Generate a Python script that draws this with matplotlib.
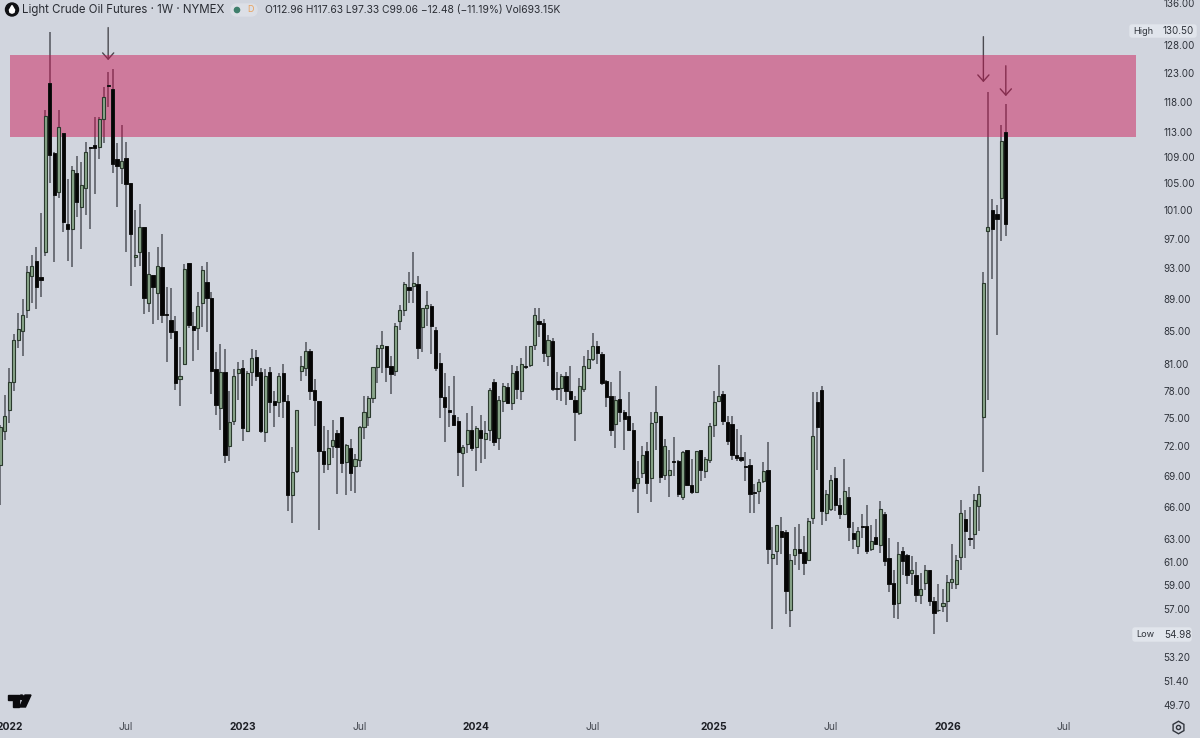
###Light Crude Oil weekly candles

import numpy as np
import matplotlib
matplotlib.use('Agg')
import matplotlib.pyplot as plt
from matplotlib.patches import Rectangle, FancyBboxPatch, Polygon, Circle

###Weekly OHLC###
opens = [70.1,73.6,75.8,79.0,83.9,85.0,87.5,91.9,93.9,91.8,95.1,121.3,109.6,103.7,112.9,99.0,98.4,106.5,101.5,104.3,
110.7,111.0,110.7,115.2,120.9,120.2,108.8,107.3,108.9,105.0,94.5,95.1,98.6,88.5,92.0,89.7,93.1,87.0,86.3,85.0,
79.3,81.0,93.7,85.6,85.3,88.5,91.1,89.1,80.4,76.1,80.1,72.0,74.7,80.0,80.6,73.6,80.1,81.8,80.1,73.5,
80.1,76.8,76.7,80.0,76.8,67.1,69.5,80.2,80.6,82.6,78.1,76.8,71.5,70.2,72.0,73.4,75.1,70.4,71.8,70.0,
70.6,74.0,75.1,77.2,80.7,82.9,83.1,80.8,80.2,86.2,87.5,90.5,90.6,90.9,85.4,87.8,88.1,85.1,81.1,77.3,
75.9,75.3,74.7,71.3,72.2,73.7,71.9,73.7,72.8,73.7,79.0,72.9,76.8,78.4,76.6,80.2,78.0,80.8,80.9,83.3,
86.2,86.0,82.0,83.8,78.3,78.3,79.6,77.9,77.0,75.5,78.2,80.6,81.6,83.1,82.2,79.1,77.4,74.3,77.1,75.6,
75.2,73.7,68.3,69.3,71.5,68.8,74.6,75.2,69.1,69.1,70.5,70.5,67.0,71.6,68.1,67.4,71.6,69.5,70.6,74.2,
76.8,77.6,74.6,74.3,71.1,70.9,70.0,70.1,67.4,67.5,68.5,69.6,61.3,62.0,63.8,63.7,56.9,61.6,62.1,61.9,
61.2,65.0,76.7,78.1,65.4,65.8,68.8,66.2,65.3,67.0,63.6,62.4,64.2,64.2,62.1,63.2,62.5,65.3,61.3,59.2,
57.5,62.0,61.6,60.0,59.9,58.2,59.2,60.3,57.7,56.9,57.3,57.7,59.3,59.1,61.4,64.9,63.1,63.5,66.1,75.1,
98.1,101.0,100.5,102.8,112.96]
highs = [74.2,77.5,80.6,84.6,87.2,88.9,93.2,94.7,95.9,100.7,116.7,130.5,109.9,116.7,112.9,105.6,107.7,109.2,108.2,111.5,
110.7,115.5,115.5,120.6,123.2,123.7,111.3,114.2,111.5,105.1,101.1,102.0,98.6,95.1,92.0,95.9,97.7,90.5,90.3,86.8,
83.0,93.5,93.7,87.3,89.8,93.3,93.8,89.8,82.4,83.4,82.8,77.9,80.4,81.3,81.5,80.2,82.8,82.7,80.6,80.4,
80.7,77.9,80.0,81.0,77.5,71.9,75.8,82.0,83.6,82.8,79.3,76.8,74.1,73.7,74.8,73.7,75.1,72.2,72.8,71.2,
74.1,77.4,77.4,80.7,83.3,85.0,83.1,82.0,86.0,88.2,91.2,92.5,95.1,91.9,87.8,90.0,88.3,85.4,82.3,80.0,
78.5,79.6,75.1,72.1,75.5,76.3,74.1,75.3,74.7,78.3,79.3,77.4,78.9,78.9,80.9,80.8,81.7,83.1,83.1,87.8,
87.8,86.4,84.5,84.1,80.1,79.9,80.1,80.8,77.4,79.4,82.0,82.7,84.7,83.8,82.4,79.2,79.0,77.4,80.2,75.8,
77.8,74.5,70.5,72.0,72.5,75.6,78.5,75.2,72.8,71.6,73.0,70.6,71.5,71.6,70.7,71.5,71.6,70.9,74.4,78.0,
80.9,77.9,75.2,75.2,73.8,73.2,71.4,70.7,68.2,68.7,70.4,72.4,64.1,64.3,65.1,63.9,61.7,64.1,64.4,63.3,
65.0,77.8,77.8,78.5,67.6,69.1,69.9,66.9,70.7,67.9,64.6,64.1,65.3,66.2,64.3,64.9,66.6,65.5,63.1,60.3,
62.8,62.3,61.7,61.5,61.0,60.0,60.7,60.3,58.0,59.1,58.7,59.9,62.6,61.6,66.7,65.7,66.0,67.2,68.0,92.5,
119.7,102.6,101.8,114.2,117.63]
lows = [66.2,72.7,74.4,78.0,82.9,82.0,86.5,88.5,87.7,89.2,94.6,105.1,93.8,102.8,97.9,93.9,93.1,100.0,95.5,100.4,
98.3,103.4,108.8,111.3,117.2,106.6,101.5,104.9,95.1,90.6,93.1,93.2,87.0,87.3,85.8,86.3,86.0,81.3,84.0,78.1,
76.3,80.9,85.3,81.4,82.7,85.4,84.8,77.6,75.3,73.7,70.3,70.5,74.2,76.9,72.6,73.5,78.5,79.1,73.4,72.5,
75.5,74.0,75.1,75.0,65.6,64.5,69.3,79.1,79.6,76.9,74.1,63.9,69.3,69.6,70.8,67.2,69.3,67.1,67.5,67.3,
69.9,72.8,74.1,76.6,78.9,80.0,79.0,77.6,79.6,85.1,86.8,88.5,88.4,81.6,82.4,85.6,82.2,80.2,75.0,72.5,
74.0,74.2,69.0,67.9,71.3,71.5,69.5,70.3,70.7,72.6,72.0,71.6,75.6,76.5,75.9,77.1,76.9,80.5,80.7,82.7,
84.2,81.3,80.8,78.0,77.0,76.8,76.4,76.9,72.6,75.3,77.8,80.4,81.4,81.0,78.6,76.2,73.1,71.8,74.6,71.6,
73.6,67.4,65.4,68.8,67.2,66.5,71.6,68.3,68.6,67.0,69.0,67.0,66.7,68.0,67.2,67.3,68.5,68.8,70.3,73.0,
76.8,74.2,72.1,70.6,70.5,70.4,68.5,65.4,65.4,66.3,68.3,60.8,55.4,60.7,61.7,56.6,55.6,60.7,60.3,59.9,
61.2,64.4,69.6,64.3,64.7,65.6,65.6,64.9,65.3,62.9,62.1,61.7,63.1,61.7,62.0,62.5,61.8,60.6,58.4,56.3,
56.2,59.9,59.1,59.0,57.6,57.4,58.6,57.3,54.98,56.8,56.8,56.0,58.7,58.7,60.3,61.3,62.4,62.1,63.8,69.4,
76.9,91.5,84.5,96.6,97.33]
closes = [74.0,75.2,79.0,83.9,85.2,86.9,92.4,93.2,90.5,91.4,115.7,109.4,103.2,113.9,99.4,98.4,107.0,102.2,104.7,109.8,
110.5,110.4,115.2,118.8,120.7,108.0,107.7,108.5,104.9,97.7,94.8,98.7,89.1,92.2,90.5,93.2,86.9,86.9,84.8,78.9,
79.6,92.8,85.7,85.1,88.1,92.7,89.1,80.2,76.4,80.1,71.1,74.6,79.6,80.4,73.9,80.0,81.7,79.7,73.6,79.7,
76.7,76.4,79.7,76.8,67.1,69.4,75.8,80.8,82.6,78.0,76.9,71.5,70.2,71.8,72.7,71.9,70.3,72.1,69.3,70.7,
74.0,75.6,77.2,80.7,82.9,83.3,80.7,79.9,85.6,87.5,90.9,90.1,91.0,82.9,87.8,88.2,85.6,80.6,77.3,76.2,
75.6,74.2,71.4,71.9,73.7,71.8,73.9,72.9,73.4,78.1,72.5,76.9,78.5,76.6,80.0,78.2,81.0,80.7,83.1,86.9,
85.8,82.3,83.9,78.2,78.2,79.6,77.9,77.1,75.6,78.5,80.8,81.6,83.1,82.3,78.8,77.3,73.7,77.0,75.6,74.9,
73.7,67.8,68.8,71.1,68.3,74.5,75.6,68.9,72.0,69.6,70.4,67.2,71.4,68.1,67.4,71.5,69.6,70.7,74.1,76.7,
77.4,74.7,72.6,71.1,70.8,70.6,69.9,67.2,67.3,68.4,69.5,62.1,61.7,64.3,63.2,58.5,61.2,62.1,61.8,60.9,
64.7,73.1,74.0,65.6,67.2,68.6,66.2,65.3,67.5,64.1,63.0,63.8,64.1,62.0,62.9,62.6,65.8,61.1,59.1,57.4,
61.7,61.1,59.9,60.3,58.2,58.7,60.3,57.7,56.7,56.9,57.5,59.3,59.5,61.2,65.4,63.8,63.0,66.7,67.2,91.0,
98.7,98.3,99.7,111.6,99.06]

###Axis labels###
price_ticks = [136,128,123,118,113,109,105,101,97,93,89,85,81,78,75,72,69,66,63,61,59,57,53.2,51.4,49.7]
time_ticks = [2,28,54,80,106,132,159,185,211,237]
time_labels = ['2022','Jul','2023','Jul','2024','Jul','2025','Jul','2026','Jul']

###Supply zone and arrows (bar, top price, tip price)###
zone_bars = [2.2,253]
zone_prices = [112.2,126.2]
arrow_bars = [24,219,224]
arrow_tops = [131.3,129.6,124.3]
arrow_tips = [125.3,121.4,119.0]

bg = '#d1d5de'
font = 'Inter'
plt.rcParams['font.family'] = [font,'DejaVu Sans']

fig = plt.figure(figsize=(12,7.38),dpi=100,facecolor=bg)
ax = fig.add_axes([0,22/738,1158/1200,716/738],facecolor=bg)
ax.set_yscale('log')
ax.set_xlim(-0.1,1158/4.49)
ax.set_ylim(48.9,136.6)
for s in ax.spines.values():
    s.set_visible(False)

o = np.array(opens)
c = np.array(closes)
x = np.arange(len(o))
up = c >= o

# wicks sit under the zone, bodies on top of it
ax.vlines(x,lows,highs,color='#5c5f66',lw=1.2,zorder=1)
ax.bar(x[up],np.abs(c-o)[up],bottom=np.minimum(o,c)[up],width=0.68,
       color='#8aa68b',edgecolor='#2b3a2e',lw=0.8,zorder=4)
ax.bar(x[~up],np.abs(c-o)[~up],bottom=np.minimum(o,c)[~up],width=0.74,
       color='#050505',edgecolor='#111111',lw=0.7,zorder=4)

ax.add_patch(Rectangle((zone_bars[0],zone_prices[0]),zone_bars[1]-zone_bars[0],zone_prices[1]-zone_prices[0],
                       facecolor='#cc0b4c',alpha=0.45,edgecolor='none',zorder=3))

for b,t,tip in zip(arrow_bars,arrow_tops,arrow_tips):
    ax.annotate('',xy=(b,tip),xytext=(b,t),zorder=2,
                arrowprops=dict(arrowstyle='->,head_length=0.45,head_width=0.4',color='#4a4a50',lw=1.0,
                                mutation_scale=10,shrinkA=0,shrinkB=0))

ax.set_yticks(price_ticks)
ax.set_yticklabels(['%.2f' % p for p in price_ticks])
ax.yaxis.set_minor_locator(matplotlib.ticker.NullLocator())
ax.yaxis.tick_right()
ax.tick_params(axis='y',length=0,pad=3.6,labelsize=7.1,labelcolor='#30343c')
ax.set_xticks(time_ticks)
ax.set_xticklabels(time_labels)
ax.tick_params(axis='x',length=0,pad=4.2,labelsize=7.4,labelcolor='#444850')
for lab in ax.get_xticklabels():
    if lab.get_text() != 'Jul':
        lab.set_fontweight('bold')
        lab.set_color('#1c1e24')

###Overlay in pixel coordinates for the TradingView furniture###
ov = fig.add_axes([0,0,1,1],facecolor='none')
ov.set_xlim(0,1200)
ov.set_ylim(738,0)
ov.axis('off')

ov.add_patch(Circle((12,9.5),6.5,color='#101114',zorder=5))
ov.add_patch(Polygon([(12,5.5),(9.4,10),(10,12.4),(12,13.2),(14,12.4),(14.6,10)],color='white',zorder=6))
ov.text(22.5,10,'Light Crude Oil Futures · 1W · NYMEX',fontsize=8.3,color='#2a2d34',va='center')
ov.add_patch(FancyBboxPatch((231,4),26,12,boxstyle='round,pad=0,rounding_size=6',color='#dcdfe6',zorder=1))
ov.add_patch(Circle((237,10),2.6,color='#3f7f6c',zorder=5))
ov.text(250,10,'D',fontsize=6.5,color='#e8a15c',va='center',ha='center')
ov.text(265,10,'O112.96 H117.63 L97.33 C99.06 −12.48 (−11.19%) Vol693.15K',fontsize=7.4,color='#2a2d34',va='center')

# price scale markers
ov.add_patch(FancyBboxPatch((1130,25),66,12,boxstyle='round,pad=0,rounding_size=2',color='#e1e5ec',zorder=1))
ov.text(1133,31,'High',fontsize=6.6,color='#30343c',va='center')
ov.text(1178,31,'130.50',fontsize=7.1,color='#30343c',va='center',ha='center')
ov.add_patch(FancyBboxPatch((1133,628),58,13,boxstyle='round,pad=0,rounding_size=2',color='#e1e5ec',zorder=1))
ov.text(1136,634.5,'Low',fontsize=6.6,color='#30343c',va='center')
ov.text(1178,634.5,'54.98',fontsize=7.1,color='#30343c',va='center',ha='center')

# gear
ov.plot([1178],[727],marker='h',ms=9,mfc='none',mec='#30343c',mew=1.0)
ov.plot([1178],[727],marker='o',ms=3,mfc='none',mec='#30343c',mew=1.0)

# TradingView mark
ov.add_patch(Polygon([(8,695),(19,695),(19,707),(12.5,707),(12.5,699.5),(8,699.5)],color='#0b0b0e',zorder=5))
ov.add_patch(Circle((21.5,697.2),2.2,color='#0b0b0e',zorder=5))
ov.add_patch(Polygon([(25,695),(31,695),(25.5,707),(19.8,707)],color='#0b0b0e',zorder=5))

fig.savefig('out.png',dpi=100,facecolor=bg)
